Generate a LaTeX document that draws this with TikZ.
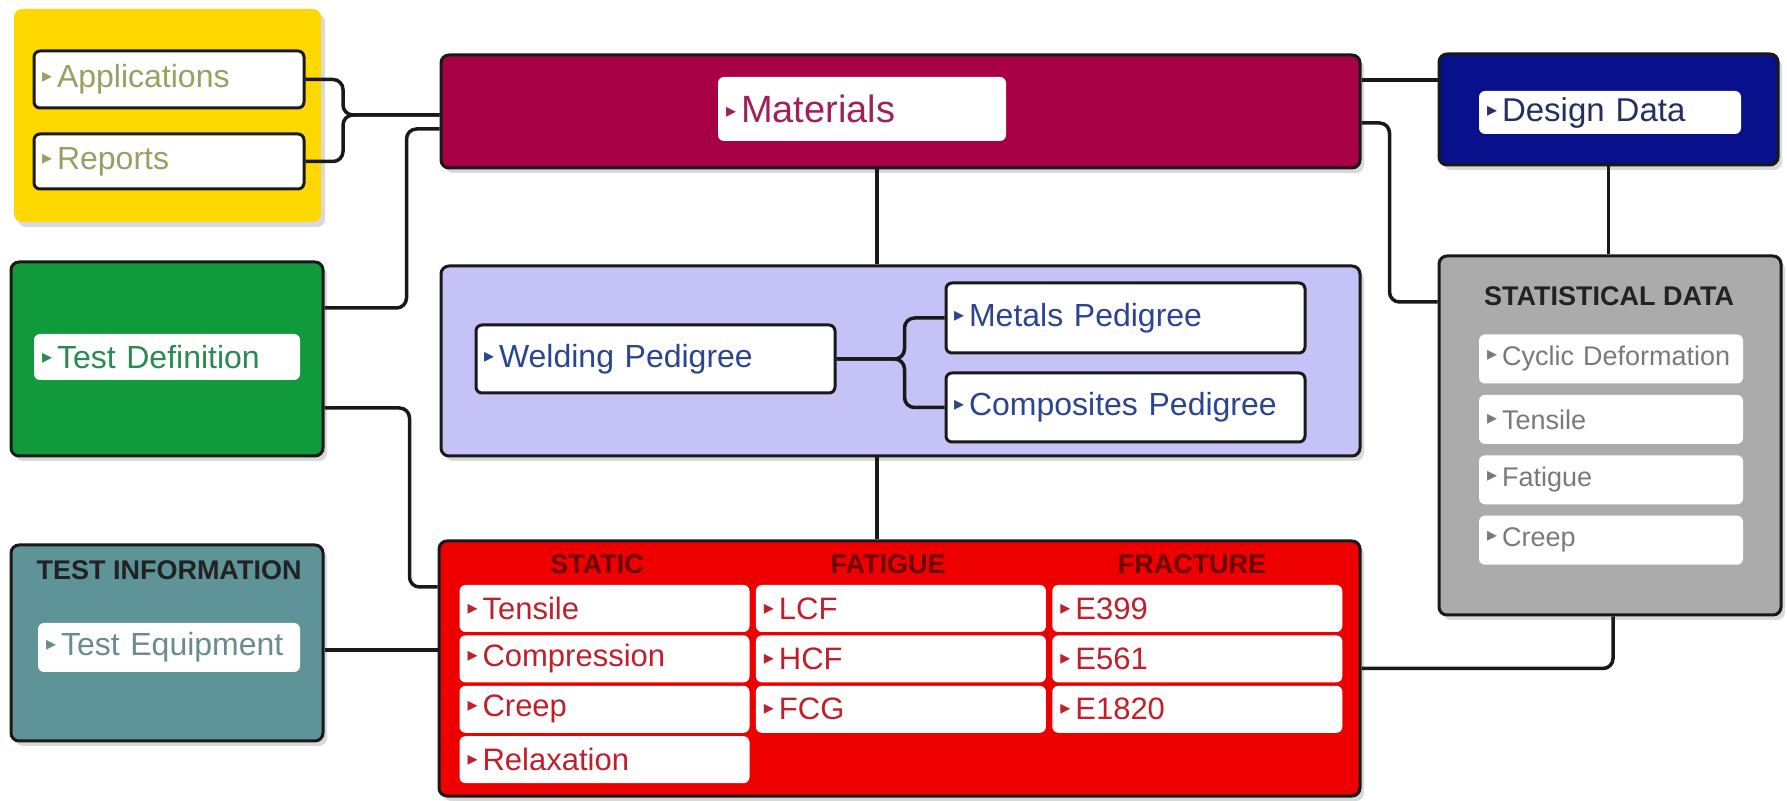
\documentclass[tikz,border=0pt]{standalone}
\usepackage{fontspec}
\setmainfont{Liberation Sans}
\newfontfamily\trifont{DejaVu Sans}
\usepackage{tikz}
\usetikzlibrary{positioning,shadows}

\definecolor{yellowbg}{RGB}{255,216,0}
\definecolor{matfill}{RGB}{168,0,68}
\definecolor{ddfill}{RGB}{8,16,140}
\definecolor{tdfill}{RGB}{16,154,60}
\definecolor{purfill}{RGB}{196,194,247}
\definecolor{statfill}{RGB}{171,171,171}
\definecolor{tifill}{RGB}{94,147,152}
\definecolor{redfill}{RGB}{238,0,0}
\definecolor{appcol}{RGB}{154,159,98}
\definecolor{matcol}{RGB}{160,32,90}
\definecolor{ddcol}{RGB}{37,48,94}
\definecolor{tdcol}{RGB}{42,138,80}
\definecolor{pedcol}{RGB}{43,69,144}
\definecolor{statcol}{RGB}{122,122,122}
\definecolor{tecol}{RGB}{106,140,144}
\definecolor{redtext}{RGB}{192,32,42}
\definecolor{headcol}{RGB}{106,0,0}
\definecolor{titlecol}{RGB}{34,34,34}

\newcommand{\tri}{\raisebox{5pt}{\trifont\fontsize{20}{20}\selectfont ▸}\hspace{5pt}}

\begin{document}
\begin{tikzpicture}[
  x=1pt, y=1pt,
  font=\fontsize{32}{38}\selectfont,
  panel/.style={draw=black!90, line width=3pt, rounded corners=8pt,
    drop shadow={shadow xshift=4pt, shadow yshift=-5pt, opacity=0.3}},
  item/.style={fill=white, rounded corners=6pt, inner xsep=8pt, inner ysep=0pt, align=left},
  itembox/.style={item, draw=black!90, line width=3pt},
  sitem/.style={item, text=statcol, text width=248, minimum height=49, font=\fontsize{27}{32}\selectfont},
  cell/.style={item, text=redtext, text width=274, minimum height=47, font=\fontsize{31}{36}\selectfont},
  head/.style={font=\fontsize{27}{32}\selectfont\bfseries},
  conn/.style={draw=black!90, line width=3.5pt, rounded corners=10pt}
]
\useasboundingbox (0,0) rectangle (1787,800);

% outer panels
\node[panel, draw=none, fill=yellowbg, minimum width=307, minimum height=213] (yb) at (167.5,684.5) {};
\node[panel, fill=matfill, minimum width=919, minimum height=113] (mat) at (900.5,688.5) {};
\node[panel, fill=ddfill, minimum width=339, minimum height=111] (dd) at (1608.5,690.5) {};
\node[panel, fill=tdfill, minimum width=312, minimum height=194] (td) at (167,441) {};
\node[panel, fill=purfill, minimum width=919, minimum height=190] (pur) at (900.5,439) {};
\node[panel, fill=statfill, minimum width=342, minimum height=359] (stat) at (1610,364.5) {};
\node[panel, fill=tifill, minimum width=312, minimum height=196] (ti) at (167,157) {};
\node[panel, fill=redfill, minimum width=921, minimum height=255] (red) at (899.5,131.5) {};

% items
\node[itembox, text=appcol, text width=254, minimum height=57] (app) at (169,720.5) {\tri Applications};
\node[itembox, text=appcol, text width=254, minimum height=55, below=23pt of app] (rep) {\tri Reports};
\node[item, text=matcol, text width=272, minimum height=64, font=\fontsize{38}{44}\selectfont] (matin) at (862,691) {\tri Materials};
\node[item, text=ddcol, text width=246, minimum height=43, font=\fontsize{33}{38}\selectfont] (ddin) at (1610,687.5) {\tri Design Data};
\node[item, text=tdcol, text width=250, minimum height=46] (tdin) at (167,443) {\tri Test Definition};

\node[itembox, text=pedcol, text width=343, minimum height=68] (weld) at (655.5,441) {\tri Welding Pedigree};
\node[itembox, text=pedcol, text width=343, minimum height=70] (met) at (1125.5,482) {\tri Metals Pedigree};
\node[itembox, text=pedcol, text width=343, minimum height=69, below=17pt of met] (comp) {\tri Composites Pedigree};
\coordinate[right=68pt of weld] (wj);

\node[head, text=titlecol] (stitle) at (1609,504) {STATISTICAL DATA};
\node[sitem] (s1) at (1611,441) {\tri Cyclic Deformation};
\node[sitem, below=11pt of s1] (s2) {\tri Tensile};
\node[sitem, below=11pt of s2] (s3) {\tri Fatigue};
\node[sitem, below=11pt of s3] (s4) {\tri Creep};

\node[head, text=titlecol] (ttitle) at (169,230) {TEST INFORMATION};
\node[item, text=tecol, text width=246, minimum height=49] (tiin) at (169,152.5) {\tri Test Equipment};

\node[head, text=headcol] (hs) at (597,236) {STATIC};
\node[head, text=headcol] (hf) at (888,236) {FATIGUE};
\node[head, text=headcol] (hr) at (1192,236) {FRACTURE};
\node[cell] (st1) at (604.5,191.5) {\tri Tensile};
\node[cell, below=3pt of st1] (st2) {\tri Compression};
\node[cell, below=3pt of st2] (st3) {\tri Creep};
\node[cell, below=3pt of st3] (st4) {\tri Relaxation};
\node[cell, right=6pt of st1] (fa1) {\tri LCF};
\node[cell, below=3pt of fa1] (fa2) {\tri HCF};
\node[cell, below=3pt of fa2] (fa3) {\tri FCG};
\node[cell, right=6pt of fa1] (fr1) {\tri E399};
\node[cell, below=3pt of fr1] (fr2) {\tri E561};
\node[cell, below=3pt of fr2] (fr3) {\tri E1820};

% connectors
\coordinate (aj) at (343,685);
\draw[conn] (app.east) -| (aj) -- (aj -| mat.west);
\draw[conn] (rep.east) -| (aj) -- (aj -| mat.west);
\draw[conn] ([yshift=-17.5pt]mat.west) -- ++(-33,0) |- ([yshift=51pt]td.east);
\draw[conn] ([yshift=-49pt]td.east) -- ++(85,0) |- ([yshift=81.5pt]red.west);
\draw[conn] ([yshift=-7pt]ti.east) coordinate (t1) -- (t1 -| red.west);
\draw[conn] ([xshift=-23.5pt]mat.south) coordinate (m1) -- (m1 |- pur.north);
\draw[conn] ([xshift=-23.5pt]pur.south) coordinate (p1) -- (p1 |- red.north);
\draw[conn] (weld.east) -- (wj) |- (met.west);
\draw[conn] (weld.east) -- (wj) |- (comp.west);
\draw[conn] ([yshift=31.5pt]mat.east) coordinate (m2) -- (m2 -| dd.west);
\draw[conn] ([yshift=-11.5pt]mat.east) -- ++(28,0) |- ([yshift=133.5pt]stat.west);
\draw[conn] (dd.south) -- (dd.south |- stat.north);
\draw[conn] ([xshift=3pt]stat.south) |- (red.east);
\end{tikzpicture}
\end{document}
